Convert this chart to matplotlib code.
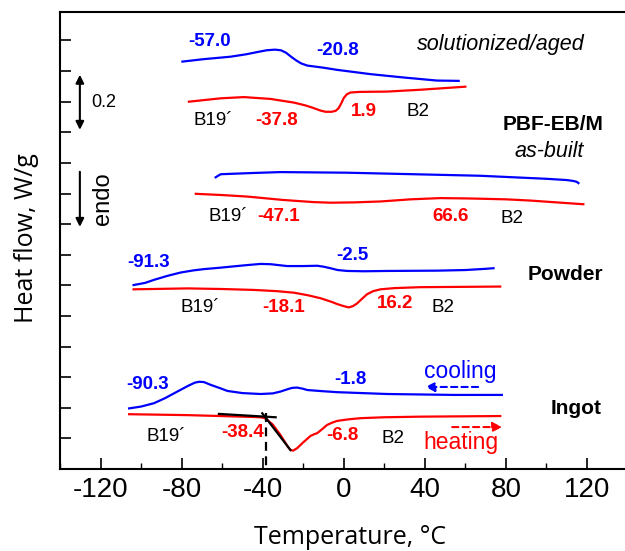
import matplotlib
matplotlib.use("Agg")
import matplotlib.pyplot as plt
from matplotlib.ticker import MultipleLocator

# ---------------- data (Temperature °C, heat flow W/g, offset curves) ----------------
sa_cool_T = [-79.6, -69, -55.8, -48, -42, -38, -34, -31, -28.5, -26, -23.5, -21, -18, -10, -3.3, 13.2, 29.6, 46, 56.7]
sa_cool_H = [1.331, 1.339, 1.347, 1.355, 1.363, 1.368, 1.370, 1.368, 1.360, 1.347, 1.335, 1.325, 1.318, 1.311, 1.304, 1.290, 1.279, 1.269, 1.268]
sa_heat_T = [-76.4, -60.7, -49.3, -36.1, -24.6, -19, -14.8, -11.5, -9, -6, -4, -2.5, -1.2, 0, 1.5, 3.3, 8, 21.4, 37.8, 60]
sa_heat_H = [1.200, 1.211, 1.215, 1.209, 1.197, 1.188, 1.179, 1.171, 1.167, 1.167, 1.170, 1.179, 1.195, 1.212, 1.224, 1.230, 1.232, 1.233, 1.239, 1.249]

ab_cool_T = [-63.2, -62, -60.7, -45, -31.2, -15, 1.7, 34.5, 67.3, 100.2, 110, 113.3, 115, 115.8]
ab_cool_H = [0.953, 0.958, 0.963, 0.967, 0.970, 0.969, 0.968, 0.963, 0.958, 0.948, 0.944, 0.941, 0.938, 0.934]
ab_heat_T = [-73, -60, -47.6, -30, -15, -6.6, 5, 18.1, 33, 47.6, 60, 67.3, 80, 92, 105, 118.2]
ab_heat_H = [0.899, 0.895, 0.890, 0.879, 0.872, 0.870, 0.871, 0.874, 0.881, 0.885, 0.884, 0.883, 0.881, 0.877, 0.871, 0.865]

pw_cool_T = [-103.7, -98, -93.6, -87, -80.4, -74, -69, -62, -55.8, -48, -41, -36, -32, -27.9, -20, -13.1, -10, -6.6, -3, 1.7, 10, 21.4, 46, 60, 70, 73.9]
pw_cool_H = [0.601, 0.608, 0.618, 0.631, 0.642, 0.649, 0.653, 0.657, 0.661, 0.666, 0.670, 0.669, 0.666, 0.663, 0.663, 0.664, 0.661, 0.656, 0.650, 0.647, 0.646, 0.647, 0.648, 0.650, 0.654, 0.656]
pw_heat_T = [-103.7, -77.1, -60, -44.3, -33, -24.6, -18, -11.5, -6, -3.3, 0, 2.5, 4.5, 6.6, 9, 11.5, 14.5, 18.1, 25, 37.8, 77.2]
pw_heat_H = [0.587, 0.590, 0.588, 0.585, 0.581, 0.576, 0.568, 0.558, 0.546, 0.539, 0.532, 0.528, 0.532, 0.541, 0.556, 0.571, 0.581, 0.587, 0.591, 0.594, 0.596]

in_cool_T = [-105.9, -100, -93.6, -88, -82.1, -77, -73.5, -71.4, -69, -65.7, -61, -57.4, -50, -41, -35, -31.2, -28, -25.5, -23, -20, -18, -10, -3.3, 21.4, 54.2, 78]
in_cool_H = [0.198, 0.204, 0.215, 0.232, 0.253, 0.271, 0.282, 0.285, 0.284, 0.275, 0.264, 0.255, 0.248, 0.245, 0.247, 0.253, 0.260, 0.265, 0.266, 0.262, 0.258, 0.254, 0.251, 0.245, 0.242, 0.242]
in_heat_T = [-105.9, -77.1, -60.7, -45, -41, -39, -37.7, -35, -33, -31.2, -29, -27.5, -26.3, -25, -23, -20, -16.4, -14.5, -13.1, -10.5, -8.2, -5.5, -3.3, 2, 8.2, 20, 37.8, 77.2]
in_heat_H = [0.179, 0.176, 0.173, 0.170, 0.169, 0.166, 0.160, 0.145, 0.127, 0.111, 0.088, 0.072, 0.062, 0.060, 0.068, 0.087, 0.108, 0.114, 0.117, 0.131, 0.144, 0.152, 0.157, 0.162, 0.166, 0.169, 0.171, 0.173]

tan_base_T = [-61.6, -33.6]
tan_base_H = [0.180, 0.169]
tan_slope_T = [-40.2, -26.3]
tan_slope_H = [0.182, 0.062]
onset_T = -38.6
onset_H = 0.183

x_ticks = [-120, -80, -40, 0, 40, 80, 120]

BLUE = "#0000FF"
RED = "#FF0000"
FONT = "Liberation Sans"
plt.rcParams["font.family"] = [FONT, "DejaVu Sans"]

fig = plt.figure(figsize=(6.25, 5.51), dpi=100)
ax = fig.add_axes([60 / 625, 1 - 469 / 551, 567.5 / 625, 457 / 551])

lw = 1.6
ax.plot(sa_cool_T, sa_cool_H, color=BLUE, lw=lw)
ax.plot(sa_heat_T, sa_heat_H, color=RED, lw=lw)
ax.plot(ab_cool_T, ab_cool_H, color=BLUE, lw=lw)
ax.plot(ab_heat_T, ab_heat_H, color=RED, lw=lw)
ax.plot(pw_cool_T, pw_cool_H, color=BLUE, lw=lw)
ax.plot(pw_heat_T, pw_heat_H, color=RED, lw=lw)
ax.plot(in_cool_T, in_cool_H, color=BLUE, lw=lw)
ax.plot(in_heat_T, in_heat_H, color=RED, lw=lw)
ax.plot(tan_base_T, tan_base_H, color="black", lw=1.6)
ax.plot(tan_slope_T, tan_slope_H, color="black", lw=1.6)
ax.plot([onset_T, onset_T], [onset_H, 0], color="black", lw=1.6, ls=(0, (4, 2.5)))

ax.set_xlim(-140, 140)
ax.set_ylim(0, 1.493)
ax.set_xticks(x_ticks)
ax.set_xticklabels([str(v) for v in x_ticks])
ax.xaxis.set_minor_locator(MultipleLocator(20))
ax.yaxis.set_major_locator(MultipleLocator(0.1))
ax.set_yticklabels([])
ax.tick_params(which="major", direction="in", length=8, width=1.2, labelsize=20, pad=6)
ax.tick_params(which="minor", direction="in", length=4, width=1.0)
ax.tick_params(axis="y", which="both", left=True)
for s in ax.spines.values():
    s.set_linewidth(1.5)

def bl(txt, x, y, c):
    ax.text(x, y, txt, color=c, fontsize=13.5, fontweight="bold", ha="center", va="center")

def nb(txt, x, y, c="black", size=13.5, style="normal", weight="normal"):
    ax.text(x, y, txt, color=c, fontsize=size, fontstyle=style, fontweight=weight,
            ha="center", va="center")

# solutionized / aged
bl("-57.0", -66.2, 1.395, BLUE)
bl("-20.8", -3.1, 1.366, BLUE)
nb("solutionized/aged", 77.7, 1.386, size=15.5, style="italic")
nb("B19´", -64.2, 1.137)
bl("-37.8", -33.2, 1.137, RED)
bl("1.9", 9.7, 1.167, RED)
nb("B2", 36.8, 1.167)
# as-built
nb("PBF-EB/M", 103.3, 1.127, size=15, weight="bold")
nb("as-built", 101.3, 1.036, size=15.5, style="italic")
nb("B19´", -56.8, 0.824)
bl("-47.1", -32.2, 0.824, RED)
bl("66.6", 52.6, 0.824, RED)
nb("B2", 83.1, 0.817)
# powder
bl("-91.3", -96.2, 0.676, BLUE)
bl("-2.5", 4.3, 0.699, BLUE)
nb("Powder", 109.2, 0.634, size=15, weight="bold")
nb("B19´", -70.6, 0.526)
bl("-18.1", -29.7, 0.526, RED)
bl("16.2", 25.5, 0.542, RED)
nb("B2", 49.1, 0.526)
# ingot
bl("-90.3", -96.7, 0.275, BLUE)
bl("-1.8", 3.3, 0.291, BLUE)
nb("Ingot", 114.6, 0.199, size=15, weight="bold")
nb("B19´", -87.8, 0.105)
bl("-38.4", -49.9, 0.118, RED)
bl("-6.8", -0.6, 0.111, RED)
nb("B2", 24.5, 0.101)
nb("cooling", 57.5, 0.317, c=BLUE, size=16.5)
nb("heating", 58.0, 0.085, c=RED, size=16.5)

ax.annotate("", xy=(40.2, 0.268), xytext=(66.3, 0.268),
            arrowprops=dict(arrowstyle="-|>", color=BLUE, lw=1.5, ls=(0, (3, 2)),
                            mutation_scale=14, shrinkA=0, shrinkB=0))
ax.annotate("", xy=(78.2, 0.137), xytext=(53.5, 0.137),
            arrowprops=dict(arrowstyle="-|>", color=RED, lw=1.5, ls=(0, (3, 2)),
                            mutation_scale=14, shrinkA=0, shrinkB=0))

# scale bar and endo arrow
ax.annotate("", xy=(-130.2, 1.288), xytext=(-130.2, 1.108),
            arrowprops=dict(arrowstyle="<|-|>", color="black", lw=1.5,
                            mutation_scale=12, shrinkA=0, shrinkB=0))
ax.text(-124.5, 1.196, "0.2", fontsize=13, ha="left", va="center")
ax.annotate("", xy=(-130.2, 0.791), xytext=(-130.2, 0.971),
            arrowprops=dict(arrowstyle="-|>", color="black", lw=1.5,
                            mutation_scale=12, shrinkA=0, shrinkB=0))
ax.text(-118.9, 0.882, "endo", fontsize=17, rotation=90, ha="center", va="center")

fig.text(350 / 625, 1 - 537 / 551, "Temperature, °C", fontsize=18, ha="center", va="center",
         family=["Open Sans", "DejaVu Sans"])
fig.text(27 / 625, 1 - 238 / 551, "Heat flow, W/g", fontsize=18, ha="center", va="center",
         rotation=90, family=["Open Sans", "DejaVu Sans"])

fig.savefig("out.png", dpi=100)
